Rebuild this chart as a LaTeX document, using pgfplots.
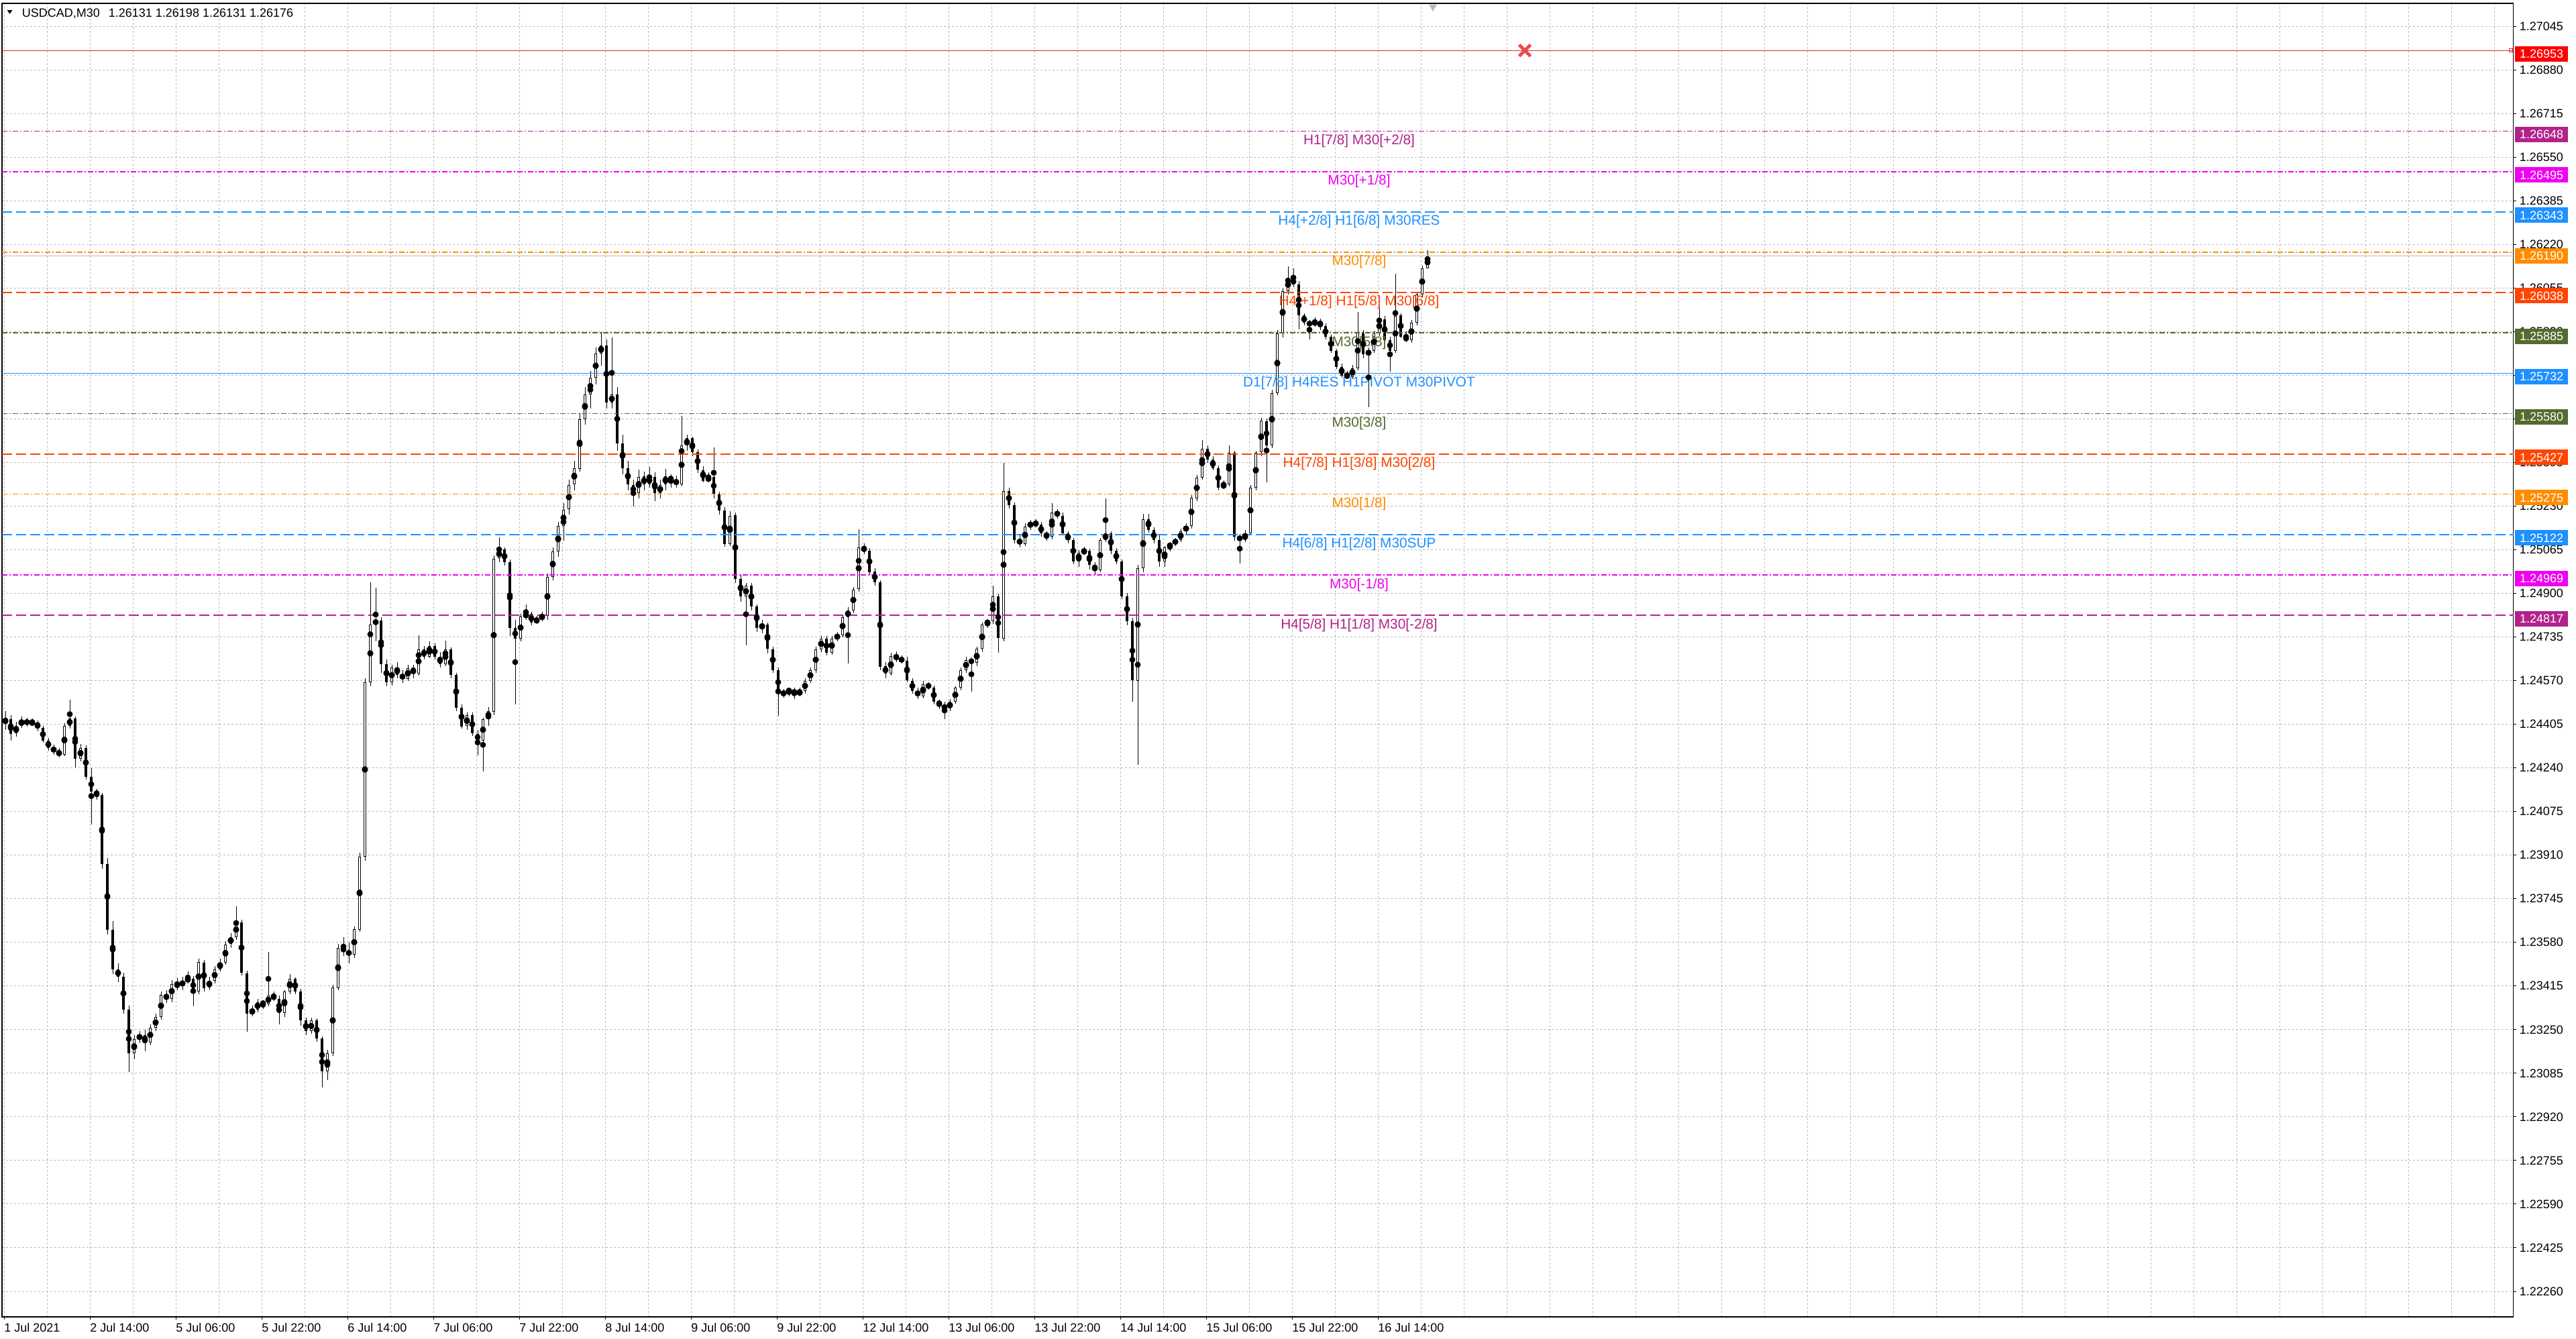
\documentclass[border=0pt]{standalone}
\usepackage{fontspec}
\setmainfont{Liberation Sans}
\usepackage{pgfplots}
\usepackage{pgfplotstable}
\pgfplotsset{compat=1.18}
\definecolor{mvr}{RGB}{178,34,140}
\definecolor{mag}{RGB}{240,0,240}
\definecolor{dblue}{RGB}{30,144,255}
\definecolor{dorange}{RGB}{255,140,0}
\definecolor{ored}{RGB}{255,69,0}
\definecolor{dolive}{RGB}{85,107,47}
\definecolor{lred}{RGB}{225,45,45}
\definecolor{xred}{RGB}{230,75,75}
\definecolor{gridc}{RGB}{185,185,185}
\tikzset{ldash/.style={dash pattern=on 7.5pt off 3pt},
 ddot/.style={dash pattern=on 4pt off 1.5pt on 1pt off 1.5pt},
 lvl/.style={anchor=north, inner sep=0pt, yshift=-2.2pt, font=\fontsize{10.4}{12}\selectfont},
 pbox/.style={anchor=west, xshift=1pt, inner xsep=3.6pt, inner ysep=0pt, minimum height=11.5pt, text height=6.4pt, text depth=0pt, text=white, font=\fontsize{9}{10}\selectfont}}
\pgfplotstableread{
x o h l c
8 1.24410 1.24455 1.24385 1.24426
16 1.24426 1.24440 1.24344 1.24371
24 1.24371 1.24415 1.24360 1.24399
32 1.24399 1.24435 1.24390 1.24420
40 1.24420 1.24430 1.24395 1.24406
48 1.24406 1.24428 1.24398 1.24413
56 1.24413 1.24420 1.24380 1.24392
64 1.24392 1.24400 1.24335 1.24344
72 1.24344 1.24355 1.24305 1.24316
80 1.24316 1.24330 1.24290 1.24303
88 1.24303 1.24315 1.24280 1.24289
96 1.24289 1.24410 1.24285 1.24399
104 1.24399 1.24498 1.24390 1.24426
112 1.24426 1.24435 1.24241 1.24275
120 1.24275 1.24330 1.24265 1.24316
128 1.24316 1.24325 1.24195 1.24206
136 1.24206 1.24240 1.24028 1.24151
144 1.24151 1.24160 1.24120 1.24138
152 1.24138 1.24145 1.23860 1.23876
160 1.23876 1.23900 1.23610 1.23629
168 1.23629 1.23660 1.23460 1.23478
176 1.23478 1.23500 1.23430 1.23450
184 1.23450 1.23465 1.23310 1.23326
192 1.23326 1.23340 1.23090 1.23161
200 1.23161 1.23230 1.23140 1.23216
208 1.23216 1.23245 1.23200 1.23230
216 1.23230 1.23250 1.23170 1.23203
224 1.23203 1.23270 1.23190 1.23258
232 1.23258 1.23310 1.23245 1.23299
240 1.23299 1.23395 1.23290 1.23381
248 1.23381 1.23400 1.23350 1.23368
256 1.23368 1.23440 1.23355 1.23423
264 1.23423 1.23445 1.23400 1.23415
272 1.23415 1.23450 1.23400 1.23436
280 1.23436 1.23470 1.23425 1.23443
288 1.23443 1.23455 1.23340 1.23395
296 1.23395 1.23520 1.23385 1.23505
304 1.23505 1.23515 1.23395 1.23409
312 1.23409 1.23450 1.23400 1.23436
320 1.23436 1.23490 1.23425 1.23478
328 1.23478 1.23520 1.23470 1.23505
336 1.23505 1.23585 1.23495 1.23574
344 1.23574 1.23615 1.23560 1.23601
352 1.23601 1.23718 1.23590 1.23656
360 1.23656 1.23665 1.23455 1.23464
368 1.23464 1.23475 1.23244 1.23313
376 1.23313 1.23340 1.23300 1.23326
384 1.23326 1.23365 1.23315 1.23354
392 1.23354 1.23360 1.23330 1.23347
400 1.23347 1.23546 1.23340 1.23381
408 1.23381 1.23395 1.23360 1.23368
416 1.23368 1.23380 1.23271 1.23313
424 1.23313 1.23400 1.23300 1.23395
432 1.23395 1.23460 1.23385 1.23443
440 1.23443 1.23450 1.23385 1.23395
448 1.23395 1.23405 1.23265 1.23285
456 1.23285 1.23295 1.23230 1.23244
464 1.23244 1.23295 1.23235 1.23285
472 1.23285 1.23292 1.23205 1.23216
480 1.23216 1.23225 1.23031 1.23093
488 1.23093 1.23175 1.23060 1.23161
496 1.23161 1.23420 1.23150 1.23409
504 1.23409 1.23575 1.23400 1.23560
512 1.23560 1.23600 1.23530 1.23548
520 1.23548 1.23580 1.23500 1.23533
528 1.23533 1.23640 1.23520 1.23629
536 1.23629 1.23920 1.23620 1.23904
544 1.23904 1.24580 1.23890 1.24564
552 1.24564 1.24942 1.24550 1.24784
560 1.24784 1.24922 1.24720 1.24798
568 1.24798 1.24810 1.24600 1.24633
576 1.24633 1.24650 1.24550 1.24564
584 1.24564 1.24630 1.24550 1.24619
592 1.24619 1.24640 1.24580 1.24592
600 1.24592 1.24610 1.24560 1.24578
608 1.24578 1.24630 1.24570 1.24619
616 1.24619 1.24630 1.24580 1.24598
624 1.24598 1.24743 1.24590 1.24688
632 1.24688 1.24700 1.24650 1.24660
640 1.24660 1.24720 1.24655 1.24702
648 1.24702 1.24710 1.24650 1.24660
656 1.24660 1.24680 1.24620 1.24633
664 1.24633 1.24722 1.24625 1.24688
672 1.24688 1.24695 1.24580 1.24592
680 1.24592 1.24600 1.24455 1.24468
688 1.24468 1.24480 1.24390 1.24399
696 1.24399 1.24450 1.24385 1.24440
704 1.24440 1.24450 1.24360 1.24371
712 1.24371 1.24385 1.24289 1.24344
720 1.24344 1.24430 1.24227 1.24426
728 1.24426 1.24470 1.24400 1.24454
736 1.24454 1.25045 1.24440 1.25032
744 1.25032 1.25114 1.25020 1.25066
752 1.25066 1.25075 1.25005 1.25018
760 1.25018 1.25030 1.24740 1.24770
768 1.24770 1.24800 1.24482 1.24729
776 1.24729 1.24825 1.24720 1.24812
784 1.24812 1.24860 1.24800 1.24822
792 1.24822 1.24830 1.24780 1.24791
800 1.24791 1.24815 1.24785 1.24805
808 1.24805 1.24830 1.24795 1.24815
816 1.24815 1.24975 1.24800 1.24963
824 1.24963 1.25075 1.24950 1.25059
832 1.25059 1.25170 1.25040 1.25156
840 1.25156 1.25240 1.25100 1.25218
848 1.25218 1.25330 1.25200 1.25311
856 1.25311 1.25400 1.25290 1.25373
864 1.25373 1.25580 1.25360 1.25560
872 1.25560 1.25680 1.25540 1.25653
880 1.25653 1.25740 1.25600 1.25715
888 1.25715 1.25830 1.25690 1.25808
896 1.25808 1.25888 1.25760 1.25839
904 1.25839 1.25860 1.25600 1.25622
912 1.25622 1.25870 1.25600 1.25653
920 1.25653 1.25680 1.25440 1.25467
928 1.25467 1.25500 1.25350 1.25373
936 1.25373 1.25400 1.25290 1.25311
944 1.25311 1.25330 1.25230 1.25280
952 1.25280 1.25370 1.25260 1.25342
960 1.25342 1.25360 1.25290 1.25311
968 1.25311 1.25380 1.25300 1.25342
976 1.25342 1.25360 1.25250 1.25280
984 1.25280 1.25330 1.25260 1.25311
992 1.25311 1.25370 1.25290 1.25342
1000 1.25342 1.25350 1.25300 1.25327
1008 1.25327 1.25345 1.25300 1.25314
1016 1.25314 1.25573 1.25305 1.25460
1024 1.25460 1.25500 1.25440 1.25486
1032 1.25486 1.25495 1.25420 1.25433
1040 1.25433 1.25445 1.25355 1.25367
1048 1.25367 1.25380 1.25320 1.25327
1056 1.25327 1.25360 1.25320 1.25340
1064 1.25340 1.25453 1.25260 1.25274
1072 1.25274 1.25285 1.25200 1.25214
1080 1.25214 1.25225 1.25075 1.25088
1088 1.25088 1.25210 1.25080 1.25195
1096 1.25195 1.25205 1.24940 1.24956
1104 1.24956 1.24970 1.24870 1.24889
1112 1.24889 1.24940 1.24704 1.24929
1120 1.24929 1.24940 1.24835 1.24850
1128 1.24850 1.24860 1.24755 1.24770
1136 1.24770 1.24800 1.24750 1.24782
1144 1.24782 1.24790 1.24675 1.24690
1152 1.24690 1.24700 1.24600 1.24611
1160 1.24611 1.24620 1.24438 1.24518
1168 1.24518 1.24540 1.24505 1.24528
1176 1.24528 1.24545 1.24510 1.24536
1184 1.24536 1.24545 1.24500 1.24518
1192 1.24518 1.24545 1.24510 1.24531
1200 1.24531 1.24580 1.24520 1.24571
1208 1.24571 1.24620 1.24560 1.24611
1216 1.24611 1.24700 1.24600 1.24690
1224 1.24690 1.24740 1.24680 1.24730
1232 1.24730 1.24740 1.24665 1.24677
1240 1.24677 1.24740 1.24670 1.24730
1248 1.24730 1.24755 1.24720 1.24743
1256 1.24743 1.24820 1.24735 1.24810
1264 1.24810 1.24850 1.24637 1.24836
1272 1.24836 1.24925 1.24825 1.24916
1280 1.24916 1.25141 1.24905 1.25075
1288 1.25075 1.25090 1.25050 1.25062
1296 1.25062 1.25070 1.24970 1.24982
1304 1.24982 1.24995 1.24930 1.24942
1312 1.24942 1.24950 1.24610 1.24624
1320 1.24624 1.24640 1.24580 1.24597
1328 1.24597 1.24675 1.24590 1.24664
1336 1.24664 1.24680 1.24640 1.24655
1344 1.24655 1.24665 1.24635 1.24645
1352 1.24645 1.24660 1.24565 1.24571
1360 1.24571 1.24580 1.24520 1.24531
1368 1.24531 1.24545 1.24500 1.24511
1376 1.24511 1.24570 1.24505 1.24558
1384 1.24558 1.24565 1.24535 1.24544
1392 1.24544 1.24550 1.24480 1.24491
1400 1.24491 1.24500 1.24465 1.24478
1408 1.24478 1.24490 1.24425 1.24465
1416 1.24465 1.24500 1.24455 1.24491
1424 1.24491 1.24550 1.24485 1.24544
1432 1.24544 1.24620 1.24535 1.24611
1440 1.24611 1.24660 1.24600 1.24650
1448 1.24650 1.24660 1.24531 1.24637
1456 1.24637 1.24700 1.24625 1.24690
1464 1.24690 1.24790 1.24680 1.24783
1472 1.24783 1.24805 1.24770 1.24796
1480 1.24796 1.24929 1.24785 1.24889
1488 1.24889 1.24900 1.24677 1.24730
1496 1.24730 1.25394 1.24720 1.25287
1504 1.25287 1.25300 1.25220 1.25234
1512 1.25234 1.25245 1.25090 1.25102
1520 1.25102 1.25120 1.25075 1.25088
1528 1.25088 1.25165 1.25080 1.25155
1536 1.25155 1.25180 1.25140 1.25168
1544 1.25168 1.25180 1.25150 1.25160
1552 1.25160 1.25170 1.25115 1.25128
1560 1.25128 1.25135 1.25100 1.25115
1568 1.25115 1.25241 1.25105 1.25208
1576 1.25208 1.25220 1.25185 1.25195
1584 1.25195 1.25205 1.25120 1.25128
1592 1.25128 1.25135 1.25090 1.25102
1600 1.25102 1.25110 1.25010 1.25022
1608 1.25022 1.25065 1.25000 1.25055
1616 1.25055 1.25075 1.25045 1.25063
1624 1.25063 1.25070 1.24990 1.25009
1632 1.25009 1.25020 1.24970 1.24989
1640 1.24989 1.25110 1.24980 1.25102
1648 1.25102 1.25261 1.25095 1.25128
1656 1.25128 1.25135 1.25050 1.25062
1664 1.25062 1.25070 1.25010 1.25022
1672 1.25022 1.25030 1.24880 1.24889
1680 1.24889 1.24900 1.24780 1.24796
1688 1.24796 1.24810 1.24491 1.24571
1696 1.24571 1.25010 1.24252 1.24995
1704 1.24995 1.25200 1.24980 1.25181
1712 1.25181 1.25200 1.25130 1.25141
1720 1.25141 1.25150 1.25090 1.25102
1728 1.25102 1.25120 1.25000 1.25022
1736 1.25022 1.25080 1.25000 1.25075
1744 1.25075 1.25095 1.25060 1.25088
1752 1.25088 1.25110 1.25080 1.25102
1760 1.25102 1.25145 1.25095 1.25135
1768 1.25135 1.25165 1.25125 1.25155
1776 1.25155 1.25270 1.25145 1.25261
1784 1.25261 1.25350 1.25250 1.25340
1792 1.25340 1.25480 1.25330 1.25447
1800 1.25447 1.25460 1.25395 1.25407
1808 1.25407 1.25420 1.25365 1.25374
1816 1.25374 1.25385 1.25290 1.25301
1824 1.25301 1.25330 1.25295 1.25314
1832 1.25314 1.25460 1.25305 1.25433
1840 1.25433 1.25440 1.25100 1.25115
1848 1.25115 1.25125 1.25015 1.25102
1856 1.25102 1.25140 1.25095 1.25128
1864 1.25128 1.25310 1.25120 1.25301
1872 1.25301 1.25440 1.25290 1.25433
1880 1.25433 1.25565 1.25420 1.25553
1888 1.25553 1.25560 1.25320 1.25460
1896 1.25460 1.25670 1.25450 1.25659
1904 1.25659 1.25895 1.25650 1.25885
1912 1.25885 1.26055 1.25870 1.26044
1920 1.26044 1.26137 1.26030 1.26090
1928 1.26090 1.26130 1.26060 1.26070
1936 1.26070 1.26080 1.25898 1.25951
1944 1.25951 1.25960 1.25915 1.25924
1952 1.25924 1.25935 1.25860 1.25918
1960 1.25918 1.25945 1.25910 1.25931
1968 1.25931 1.25940 1.25895 1.25911
1976 1.25911 1.25920 1.25860 1.25871
1984 1.25871 1.25880 1.25810 1.25818
1992 1.25818 1.25825 1.25750 1.25758
2000 1.25758 1.25770 1.25715 1.25725
2008 1.25725 1.25740 1.25710 1.25719
2016 1.25719 1.25765 1.25710 1.25752
2024 1.25752 1.25964 1.25745 1.25885
2032 1.25885 1.25895 1.25790 1.25805
2040 1.25805 1.25830 1.25606 1.25818
2048 1.25818 1.25895 1.25810 1.25885
2056 1.25885 1.25991 1.25875 1.25938
2064 1.25938 1.25950 1.25850 1.25858
2072 1.25858 1.25870 1.25739 1.25818
2080 1.25818 1.26110 1.25810 1.25951
2088 1.25951 1.25960 1.25865 1.25871
2096 1.25871 1.25890 1.25850 1.25858
2104 1.25858 1.25935 1.25850 1.25924
2112 1.25924 1.26040 1.25915 1.26030
2120 1.26030 1.26140 1.26020 1.26130
2128 1.26131 1.26198 1.26131 1.26176
}\candles
\begin{document}
\begin{tikzpicture}
\path[use as bounding box] (0,0) rectangle (1920pt,-998pt);
\fill[white] (0,0) rectangle (1920pt,-998pt);
\begin{axis}[
  at={(1.5pt,-2.5pt)}, anchor=north west,
  width=1871.75pt, height=979pt, scale only axis,
  xmin=3, xmax=3746.5, ymin=1.221636, ymax=1.271313,
  axis line style={black, line width=0.6pt},
  xtick={6,134,262,390,518,646,774,902,1030,1158,1286,1414,1542,1670,1798,1926,2054},
  xticklabels={1 Jul 2021,2 Jul 14:00,5 Jul 06:00,5 Jul 22:00,6 Jul 14:00,7 Jul 06:00,7 Jul 22:00,8 Jul 14:00,9 Jul 06:00,9 Jul 22:00,12 Jul 14:00,13 Jul 06:00,13 Jul 22:00,14 Jul 14:00,15 Jul 06:00,15 Jul 22:00,16 Jul 14:00},
  minor xtick={70,198,326,454,582,710,838,966,1094,1222,1350,1478,1606,1734,1862,1990,2118,2182,2246,2310,2374,2438,2502,2566,2630,2694,2758,2822,2886,2950,3014,3078,3142,3206,3270,3334,3398,3462,3526,3590,3654,3718},
  ytick={1.22260,1.22425,1.22590,1.22755,1.22920,1.23085,1.23250,1.23415,1.23580,1.23745,1.23910,1.24075,1.24240,1.24405,1.24570,1.24735,1.24900,1.25065,1.25230,1.25395,1.25560,1.25725,1.25890,1.26055,1.26220,1.26385,1.26550,1.26715,1.26880,1.27045},
  yticklabels={1.22260,1.22425,1.22590,1.22755,1.22920,1.23085,1.23250,1.23415,1.23580,1.23745,1.23910,1.24075,1.24240,1.24405,1.24570,1.24735,1.24900,1.25065,1.25230,1.25395,1.25560,1.25725,1.25890,1.26055,1.26220,1.26385,1.26550,1.26715,1.26880,1.27045},
  xtick pos=left, ytick pos=right, yticklabel pos=right,
  tick align=outside, major tick length=2pt, minor tick length=0pt,
  tick style={black, line width=0.5pt},
  xmajorgrids, xminorgrids, ymajorgrids,
  major grid style={gridc, line width=0.5pt, dash pattern=on 1.5pt off 1.5pt},
  minor grid style={gridc, line width=0.5pt, dash pattern=on 1.5pt off 1.5pt},
  tick label style={font=\fontsize{9}{10}\selectfont, text=black},
  xticklabel style={anchor=north west, inner sep=0pt, yshift=-2.5pt},
  yticklabel style={anchor=west, inner sep=0pt, xshift=2.5pt},
  clip=false,
]
% wicks
\addplot[only marks, mark=none, forget plot,
  error bars/.cd, y dir=both, y explicit, error mark=none,
  error bar style={draw=black, line width=0.5pt, solid}]
  table[x=x, y expr={(\thisrow{h}+\thisrow{l})/2}, y error expr={(\thisrow{h}-\thisrow{l})/2}] {\candles};
% bodies (outline / bearish fill)
\addplot[only marks, mark=none, forget plot,
  error bars/.cd, y dir=both, y explicit, error mark=none,
  error bar style={draw=black, line width=2.2pt, solid}]
  table[x=x, y expr={(\thisrow{o}+\thisrow{c})/2}, y error expr={abs(\thisrow{c}-\thisrow{o})/2}] {\candles};
% bullish hollow interior
\addplot[only marks, mark=none, forget plot, unbounded coords=discard,
  error bars/.cd, y dir=both, y explicit, error mark=none,
  error bar style={draw=white, line width=1.2pt, solid, shorten <=0.5pt, shorten >=0.5pt}]
  table[x=x, y expr={\thisrow{c}>\thisrow{o} ? (\thisrow{o}+\thisrow{c})/2 : nan}, y error expr={abs(\thisrow{c}-\thisrow{o})/2}] {\candles};
% bid line
\addplot[gray!55, line width=0.6pt] coordinates {(3,1.26176) (3746.5,1.26176)};
% levels
\addplot[lred, line width=0.7pt] coordinates {(3,1.26953) (3746.5,1.26953)};
\addplot[mvr, line width=0.8pt, ddot] coordinates {(3,1.26648) (3746.5,1.26648)};
\addplot[mag, line width=0.8pt, ddot] coordinates {(3,1.26495) (3746.5,1.26495)};
\addplot[dblue, line width=0.8pt, ldash] coordinates {(3,1.26343) (3746.5,1.26343)};
\addplot[dorange, line width=0.8pt, ddot] coordinates {(3,1.26190) (3746.5,1.26190)};
\addplot[ored, line width=0.8pt, ldash] coordinates {(3,1.26038) (3746.5,1.26038)};
\addplot[dolive, line width=0.8pt, ddot] coordinates {(3,1.25885) (3746.5,1.25885)};
\addplot[dblue, line width=0.7pt] coordinates {(3,1.25732) (3746.5,1.25732)};
\addplot[dolive, line width=0.8pt, ddot] coordinates {(3,1.25580) (3746.5,1.25580)};
\addplot[ored, line width=0.8pt, ldash] coordinates {(3,1.25427) (3746.5,1.25427)};
\addplot[dorange, line width=0.8pt, ddot] coordinates {(3,1.25275) (3746.5,1.25275)};
\addplot[dblue, line width=0.8pt, ldash] coordinates {(3,1.25122) (3746.5,1.25122)};
\addplot[mag, line width=0.8pt, ddot] coordinates {(3,1.24969) (3746.5,1.24969)};
\addplot[mvr, line width=0.8pt, ldash] coordinates {(3,1.24817) (3746.5,1.24817)};
% markers
\addplot[only marks, mark=x, mark size=6pt, xred, line width=2.4pt] coordinates {(2273,1.26953)};
\addplot[only marks, mark=square, mark size=1.3pt, lred, line width=0.6pt] coordinates {(3743,1.26953)};
\addplot[only marks, mark=triangle*, mark size=3pt, mark options={rotate=180, fill=gray!55, draw=gray!55}] coordinates {(2136,1.27118)};
% level labels
\node[lvl, text=mvr] at (axis cs:2026,1.26648) {H1[7/8] M30[+2/8]};
\node[lvl, text=mag] at (axis cs:2026,1.26495) {M30[+1/8]};
\node[lvl, text=dblue] at (axis cs:2026,1.26343) {H4[+2/8] H1[6/8] M30RES};
\node[lvl, text=dorange] at (axis cs:2026,1.26190) {M30[7/8]};
\node[lvl, text=ored] at (axis cs:2026,1.26038) {H4[+1/8] H1[5/8] M30[6/8]};
\node[lvl, text=dolive] at (axis cs:2026,1.25885) {M30[5/8]};
\node[lvl, text=dblue] at (axis cs:2026,1.25732) {D1[7/8] H4RES H1PIVOT M30PIVOT};
\node[lvl, text=dolive] at (axis cs:2026,1.25580) {M30[3/8]};
\node[lvl, text=ored] at (axis cs:2026,1.25427) {H4[7/8] H1[3/8] M30[2/8]};
\node[lvl, text=dorange] at (axis cs:2026,1.25275) {M30[1/8]};
\node[lvl, text=dblue] at (axis cs:2026,1.25122) {H4[6/8] H1[2/8] M30SUP};
\node[lvl, text=mag] at (axis cs:2026,1.24969) {M30[-1/8]};
\node[lvl, text=mvr] at (axis cs:2026,1.24817) {H4[5/8] H1[1/8] M30[-2/8]};
% anchors for price boxes
\coordinate (b1) at (axis cs:3746.5,1.26953);
\coordinate (b2) at (axis cs:3746.5,1.26648);
\coordinate (b3) at (axis cs:3746.5,1.26495);
\coordinate (b4) at (axis cs:3746.5,1.26343);
\coordinate (b5) at (axis cs:3746.5,1.26190);
\coordinate (b6) at (axis cs:3746.5,1.26038);
\coordinate (b7) at (axis cs:3746.5,1.25885);
\coordinate (b8) at (axis cs:3746.5,1.25732);
\coordinate (b9) at (axis cs:3746.5,1.25580);
\coordinate (b10) at (axis cs:3746.5,1.25427);
\coordinate (b11) at (axis cs:3746.5,1.25275);
\coordinate (b12) at (axis cs:3746.5,1.25122);
\coordinate (b13) at (axis cs:3746.5,1.24969);
\coordinate (b14) at (axis cs:3746.5,1.24817);
\end{axis}
\node[pbox, fill=red] at ([yshift=-2.5pt]b1) {1.26953};
\node[pbox, fill=mvr] at ([yshift=-2.5pt]b2) {1.26648};
\node[pbox, fill=mag] at ([yshift=-2.5pt]b3) {1.26495};
\node[pbox, fill=dblue] at ([yshift=-2.5pt]b4) {1.26343};
\node[pbox, fill=dorange] at ([yshift=-2.5pt]b5) {1.26190};
\node[pbox, fill=ored] at ([yshift=-2.5pt]b6) {1.26038};
\node[pbox, fill=dolive] at ([yshift=-2.5pt]b7) {1.25885};
\node[pbox, fill=dblue] at ([yshift=-2.5pt]b8) {1.25732};
\node[pbox, fill=dolive] at ([yshift=-2.5pt]b9) {1.25580};
\node[pbox, fill=ored] at ([yshift=-2.5pt]b10) {1.25427};
\node[pbox, fill=dorange] at ([yshift=-2.5pt]b11) {1.25275};
\node[pbox, fill=dblue] at ([yshift=-2.5pt]b12) {1.25122};
\node[pbox, fill=mag] at ([yshift=-2.5pt]b13) {1.24969};
\node[pbox, fill=mvr] at ([yshift=-2.5pt]b14) {1.24817};
% header
\fill[black] (5.35pt,-7.6pt) -- (9.2pt,-7.6pt) -- (7.27pt,-10.4pt) -- cycle;
\node[anchor=base west, inner sep=0pt, font=\fontsize{9}{11}\selectfont] at (16.25pt,-13pt) {USDCAD,M30\hspace{6.5pt}1.26131 1.26198 1.26131 1.26176};
\end{tikzpicture}
\end{document}
